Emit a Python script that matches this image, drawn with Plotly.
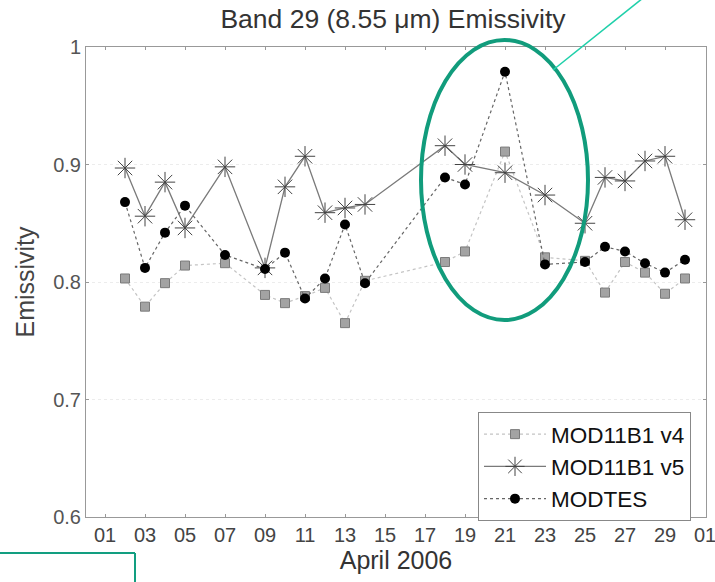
import plotly.graph_objects as go

# Day of April 2006 for each observation
days = [2, 3, 4, 5, 7, 9, 10, 11, 12, 13, 14, 18, 19, 21, 23, 25, 26, 27, 28, 29, 30]

mod11b1_v4 = [0.803, 0.779, 0.799, 0.814, 0.816, 0.789, 0.782, 0.788, 0.795, 0.765, 0.801,
              0.817, 0.826, 0.911, 0.821, 0.818, 0.791, 0.817, 0.808, 0.790, 0.803]
mod11b1_v5 = [0.897, 0.856, 0.885, 0.846, 0.898, 0.812, 0.881, 0.907, 0.859, 0.863, 0.866,
              0.916, 0.900, 0.893, 0.874, 0.850, 0.889, 0.886, 0.903, 0.907, 0.853]
modtes = [0.868, 0.812, 0.842, 0.865, 0.823, 0.811, 0.825, 0.786, 0.803, 0.849, 0.799,
          0.889, 0.883, 0.979, 0.815, 0.817, 0.830, 0.826, 0.816, 0.808, 0.819]

y_ticks = [0.6, 0.7, 0.8, 0.9, 1.0]
y_tick_labels = ["0.6", "0.7", "0.8", "0.9", "1"]

dates = [f"2006-04-{d:02d}" for d in days]

fig = go.Figure()
fig.add_trace(go.Scatter(
    x=dates, y=mod11b1_v4, name="MOD11B1 v4", mode="lines+markers",
    line=dict(color="#c4c4c4", width=1.2, dash="dot"),
    marker=dict(symbol="square", size=9, color="#a3a3a3", line=dict(color="#7a7a7a", width=1)),
))
fig.add_trace(go.Scatter(
    x=dates, y=mod11b1_v5, name="MOD11B1 v5", mode="lines+markers",
    line=dict(color="#7a7a7a", width=1.3),
    marker=dict(symbol="asterisk-open", size=17, color="#444", line=dict(color="#444", width=1)),
))
fig.add_trace(go.Scatter(
    x=dates, y=modtes, name="MODTES", mode="lines+markers",
    line=dict(color="#666", width=1.2, dash="3px,3px"),
    marker=dict(symbol="circle", size=10, color="#000"),
))

L, R, T, B = 86, 9, 47, 65
W, H = 715, 582
pw, ph = W - L - R, H - T - B


def px(x):
    return (x - L) / pw


def py(y):
    return (H - B - y) / ph


shapes = [
    dict(type="circle", xref="paper", yref="paper",
         x0=px(421), x1=px(588), y0=py(320), y1=py(40),
         line=dict(color="#119c7c", width=4)),
    dict(type="line", xref="paper", yref="paper",
         x0=px(553), y0=py(70), x1=px(643), y1=py(-2),
         line=dict(color="#1fd0aa", width=1.6)),
    dict(type="line", xref="paper", yref="paper",
         x0=px(-2), y0=py(553), x1=px(135), y1=py(553),
         line=dict(color="#129e80", width=2)),
    dict(type="line", xref="paper", yref="paper",
         x0=px(135), y0=py(553), x1=px(135), y1=py(590),
         line=dict(color="#129e80", width=2)),
]

fig.update_layout(
    width=W, height=H,
    margin=dict(l=L, r=R, t=T, b=B, autoexpand=False),
    paper_bgcolor="white", plot_bgcolor="white",
    font=dict(family="Liberation Sans, Arial, sans-serif", color="#333"),
    title=dict(text="Band 29 (8.55 \u03bcm) Emissivity", xref="container", x=393 / W,
               xanchor="center", y=1 - 19 / H, yanchor="middle",
               font=dict(size=26.5, color="#333")),
    xaxis=dict(
        type="date", automargin=False,
        range=["2006-03-31 01:12", "2006-05-01 01:12"],
        tick0="2006-04-01", dtick=2 * 86400000, tickformat="%d",
        ticks="inside", ticklen=3, tickcolor="#999",
        ticklabeloverflow="allow",
        showline=True, linecolor="#999", linewidth=1, mirror="ticks",
        showgrid=False, zeroline=False,
        tickfont=dict(size=20, color="#444"),
        title=dict(text="April 2006", font=dict(size=25, color="#333"), standoff=3),
    ),
    yaxis=dict(
        automargin=False,
        range=[0.6, 1.0],
        tickvals=y_ticks, ticktext=y_tick_labels,
        ticks="inside", ticklen=3, tickcolor="#999",
        showline=True, linecolor="#999", linewidth=1, mirror="ticks",
        showgrid=True, gridcolor="#ececec", griddash="dot", gridwidth=1,
        zeroline=False,
        tickfont=dict(size=20, color="#555"),
        title=dict(text="Emissivity", font=dict(size=25, color="#444"), standoff=11),
    ),
    legend=dict(
        x=px(691), xanchor="right", y=py(412), yanchor="top",
        bordercolor="#888", borderwidth=1, bgcolor="white",
        font=dict(size=22.5, color="#111"),
        itemwidth=62, tracegroupgap=0,
    ),
    shapes=shapes,
    showlegend=True,
)

fig.write_html("out.html", config={"displayModeBar": False},
               post_script="document.body.style.margin='0px';")
